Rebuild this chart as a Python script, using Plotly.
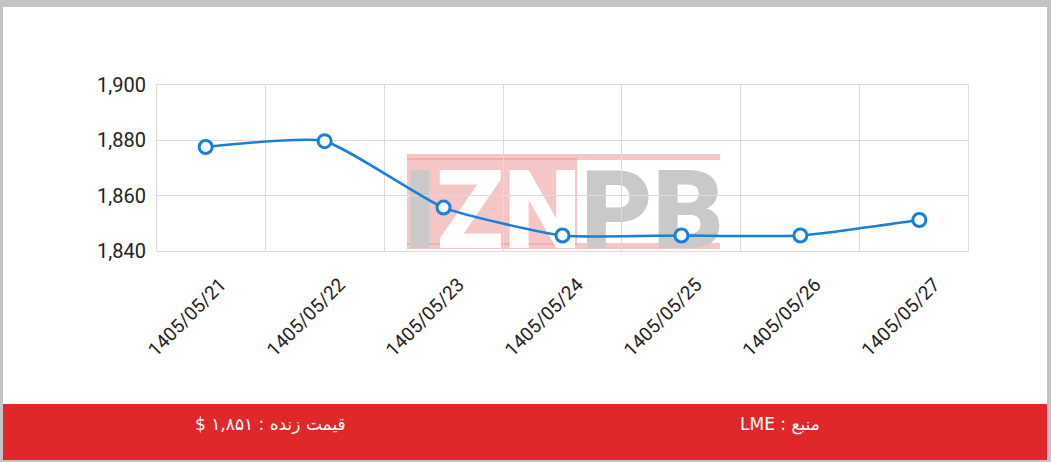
import plotly.graph_objects as go

dates = ['1405/05/21', '1405/05/22', '1405/05/23', '1405/05/24',
         '1405/05/25', '1405/05/26', '1405/05/27']
prices = [1877.6, 1879.7, 1855.7, 1845.6, 1845.6, 1845.6, 1851.2]
y_ticks = [1840, 1860, 1880, 1900]

# RLE ... PDF so the footer texts read right-to-left like the original
source_text = '\u202bمنبع : LME\u202c'
live_text = '\u202bقیمت زنده : ۱,۸۵۱ $\u202c'

W, H = 1051, 462
# plot area in pixels
L, R, T, B = 157, 968, 85, 251


def px(x):
    return (x - L) / (R - L)


def py(y):
    return (B - y) / (B - T)


blue = '#1a7fd6'
grid = '#dcdcdc'

fig = go.Figure()
fig.add_trace(go.Scatter(
    x=dates, y=prices,
    mode='lines+markers',
    line=dict(color=blue, width=2.5, shape='spline', smoothing=0.5),
    marker=dict(size=13, color='white', line=dict(color=blue, width=3)),
    cliponaxis=False,
    showlegend=False,
))

shapes = []
# outer grey frame + white card
shapes.append(dict(type='rect', xref='paper', yref='paper', layer='below',
                   x0=px(3), x1=px(1047), y0=py(460), y1=py(7),
                   fillcolor='white', line=dict(width=0)))
# red footer bar
shapes.append(dict(type='rect', xref='paper', yref='paper', layer='below',
                   x0=px(3), x1=px(1047), y0=py(460), y1=py(404),
                   fillcolor='#e0282b', line=dict(width=0)))

# watermark logo
pink = 'rgba(236,160,160,0.6)'
shapes.append(dict(type='rect', xref='paper', yref='paper', layer='below',
                   x0=px(407), x1=px(577), y0=py(245), y1=py(158),
                   fillcolor=pink, line=dict(width=0)))
shapes.append(dict(type='rect', xref='paper', yref='paper', layer='below',
                   x0=px(407), x1=px(720), y0=py(160), y1=py(154),
                   fillcolor=pink, line=dict(width=0)))
shapes.append(dict(type='rect', xref='paper', yref='paper', layer='below',
                   x0=px(407), x1=px(720), y0=py(249), y1=py(243),
                   fillcolor=pink, line=dict(width=0)))
logo = ('<span style="color:#c9c9c9;font-weight:900">I</span>'
        '<span style="color:white;font-weight:900">ZN</span>'
        '<span style="color:#c9c9c9;font-weight:900">PB</span>')
shapes.append(dict(type='rect', xref='paper', yref='paper', layer='below',
                   x0=px(405), x1=px(722), y0=py(251), y1=py(153),
                   fillcolor='rgba(0,0,0,0)', line=dict(width=0),
                   label=dict(text=logo, textposition='middle center',
                              font=dict(family='Roboto', size=110, weight=900))))

footer_font = dict(family='DejaVu Sans', size=17, color='white')
annotations = [
    dict(text=live_text, x=px(270), y=py(424), xref='paper', yref='paper',
         xanchor='center', yanchor='middle', showarrow=False, font=footer_font),
    dict(text=source_text, x=px(780), y=py(424), xref='paper', yref='paper',
         xanchor='center', yanchor='middle', showarrow=False, font=footer_font),
]

fig.update_layout(
    width=W, height=H,
    margin=dict(l=L, r=W - R, t=T, b=H - B),
    paper_bgcolor='#c4c4c4',
    plot_bgcolor='white',
    shapes=shapes,
    annotations=annotations,
    font=dict(family='Roboto', color='#333333'),
    xaxis=dict(type='category', tickson='boundaries', showgrid=True, gridcolor=grid,
               showline=True, linecolor=grid, mirror=True, ticks='',
               tickangle=-45, ticklabelstandoff=14, ticklabelshift=15,
               tickfont=dict(size=19, color='#222222')),
    yaxis=dict(range=[1840, 1900], tickvals=y_ticks, tickformat=',', showgrid=True,
               gridcolor=grid, showline=True, linecolor=grid, mirror=True,
               zeroline=False, ticks='', ticklabelstandoff=6,
               tickfont=dict(size=20, color='#222222')),
)

fig.write_html('out.html', config={'displayModeBar': False},
               post_script="document.body.style.margin='0';")
